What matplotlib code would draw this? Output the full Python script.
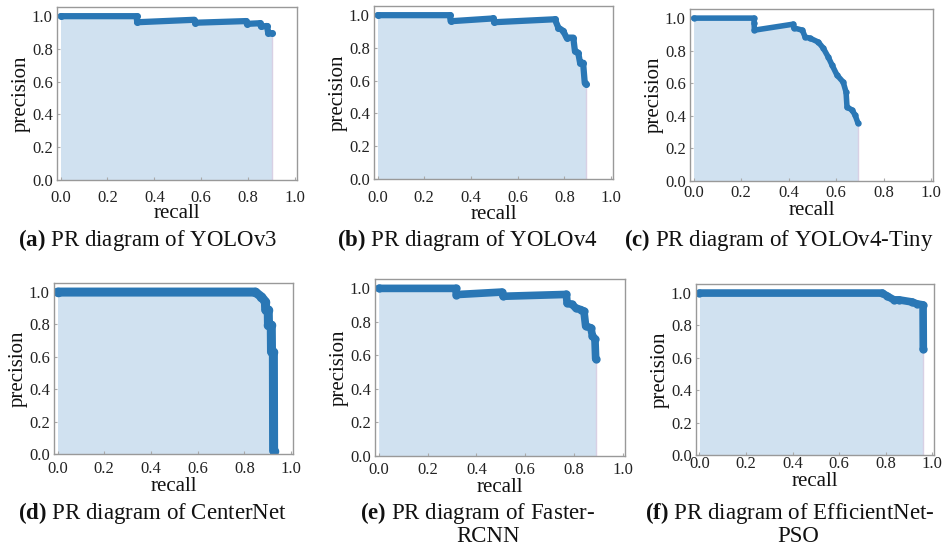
import matplotlib
matplotlib.use("Agg")
import matplotlib.pyplot as plt

plt.rcParams['font.family'] = ['Liberation Serif', 'DejaVu Serif']
plt.rcParams['mathtext.fontset'] = 'custom'
plt.rcParams['mathtext.rm'] = 'Liberation Serif'
plt.rcParams['mathtext.bf'] = 'Liberation Serif:bold'

# PR curve points (recall, precision)
yolov3_recall = [0.0, 0.324, 0.327, 0.57, 0.575, 0.79, 0.795, 0.85, 0.855, 0.88, 0.885, 0.90]
yolov3_prec = [1.0, 1.0, 0.963, 0.978, 0.96, 0.97, 0.953, 0.957, 0.937, 0.94, 0.90, 0.895]

yolov4_recall = [0.0, 0.31, 0.313, 0.494, 0.5, 0.759, 0.774, 0.795, 0.809, 0.838, 0.845,
                 0.859, 0.867, 0.88, 0.887, 0.894]
yolov4_prec = [1.0, 1.0, 0.963, 0.98, 0.957, 0.975, 0.924, 0.904, 0.863, 0.863, 0.781,
               0.771, 0.71, 0.71, 0.587, 0.577]

tiny_recall = [0.0, 0.254, 0.255, 0.256, 0.42, 0.422, 0.458, 0.47, 0.49, 0.525, 0.546,
               0.567, 0.583, 0.604, 0.63, 0.642, 0.646, 0.667, 0.68, 0.692]
tiny_prec = [1.0, 1.0, 0.97, 0.926, 0.963, 0.94, 0.926, 0.883, 0.877, 0.853, 0.816,
             0.761, 0.712, 0.65, 0.607, 0.546, 0.454, 0.436, 0.405, 0.356]

centernet_recall = [0.0, 0.847, 0.873, 0.89, 0.891, 0.902, 0.903, 0.915, 0.916, 0.924, 0.925]
centernet_prec = [1.0, 1.0, 0.97, 0.94, 0.89, 0.89, 0.796, 0.796, 0.63, 0.63, 0.02]

frcnn_recall = [0.0, 0.315, 0.318, 0.503, 0.51, 0.768, 0.771, 0.792, 0.806, 0.826, 0.84,
                0.847, 0.868, 0.875, 0.885, 0.888]
frcnn_prec = [1.0, 1.0, 0.963, 0.978, 0.953, 0.964, 0.913, 0.904, 0.883, 0.874, 0.864,
              0.775, 0.765, 0.716, 0.70, 0.58]

effnet_recall = [0.0, 0.786, 0.806, 0.836, 0.858, 0.914, 0.935, 0.961, 0.962]
effnet_prec = [1.0, 1.0, 0.982, 0.958, 0.958, 0.945, 0.933, 0.927, 0.655]

curves = [(yolov3_recall, yolov3_prec), (yolov4_recall, yolov4_prec), (tiny_recall, tiny_prec),
          (centernet_recall, centernet_prec), (frcnn_recall, frcnn_prec), (effnet_recall, effnet_prec)]

tick_vals = [0.0, 0.2, 0.4, 0.6, 0.8, 1.0]
tick_labels = ['0.0', '0.2', '0.4', '0.6', '0.8', '1.0']

caption_tags = ['(a)', '(b)', '(c)', '(d)', '(e)', '(f)']
caption_texts = ['PR diagram of YOLOv3', 'PR diagram of YOLOv4', 'PR diagram of YOLOv4-Tiny',
                 'PR diagram of CenterNet', 'PR diagram of Faster-', 'PR diagram of EfficientNet-']
caption_second = ['', '', '', '', 'RCNN', 'PSO']

# layout (pixels): left, top, right, bottom of each axes
W, H = 945, 546
boxes = [(57, 7, 297, 180), (374, 6, 613, 179), (690, 9, 933, 181),
         (54, 283, 293, 454), (375, 279, 625, 456), (696, 284, 934, 455)]
cap_x = [147, 467, 779, 152, 478, 790]
cap_x2 = [0, 0, 0, 0, 488, 798]
cap_y = [240, 240, 240, 513, 513, 513]
cap_y2 = 537
xpads = [7, 8, 3, 5, 4, 1]
label_pads = [-1, -1, 0, 0, 0, 0]
widths = [4.5, 4.5, 4, 6.5, 5.5, 5.5]

blue = '#2a77b5'
fill = '#d0e1f0'

fig = plt.figure(figsize=(W / 100, H / 100), dpi=100)

for i, (rec, prec) in enumerate(curves):
    l, t, r, b = boxes[i]
    ax = fig.add_axes([l / W, 1 - b / H, (r - l) / W, (b - t) / H])
    ax.fill_between(rec, prec, 0, color=fill, lw=0)
    ax.vlines(rec[-1], 0, prec[-1], color='#d8d0e4', lw=1)
    ax.plot(rec, prec, color=blue, lw=widths[i], solid_capstyle='round',
            solid_joinstyle='round', marker='o', ms=widths[i] * 0.9, mec=blue)
    ax.set_xlim(-0.015, 1.008)
    ax.set_ylim(0, 1.056)
    ax.set_xticks(tick_vals)
    ax.set_xticklabels(tick_labels)
    ax.set_yticks(tick_vals)
    ax.set_yticklabels(tick_labels)
    ax.tick_params(direction='in', length=2.5, color='#aaaaaa', labelsize=12,
                   labelcolor='#222222')
    ax.tick_params(axis='x', pad=xpads[i])
    ax.tick_params(axis='y', pad=3)
    for s in ax.spines.values():
        s.set_color('#999999')
        s.set_linewidth(1)
    ax.set_xlabel('recall', fontsize=15, labelpad=label_pads[i], color='#111111')
    ax.set_ylabel('precision', fontsize=15, labelpad=1, color='#111111')

    fig.text(cap_x[i] / W, 1 - cap_y[i] / H,
             r'$\mathbf{' + caption_tags[i] + '}$ ' + caption_texts[i],
             ha='center', va='center', fontsize=16.5, color='#111111')
    if caption_second[i]:
        fig.text(cap_x2[i] / W, 1 - cap_y2 / H, caption_second[i],
                 ha='center', va='center', fontsize=16.5, color='#111111')

fig.savefig('out.png', dpi=100)
